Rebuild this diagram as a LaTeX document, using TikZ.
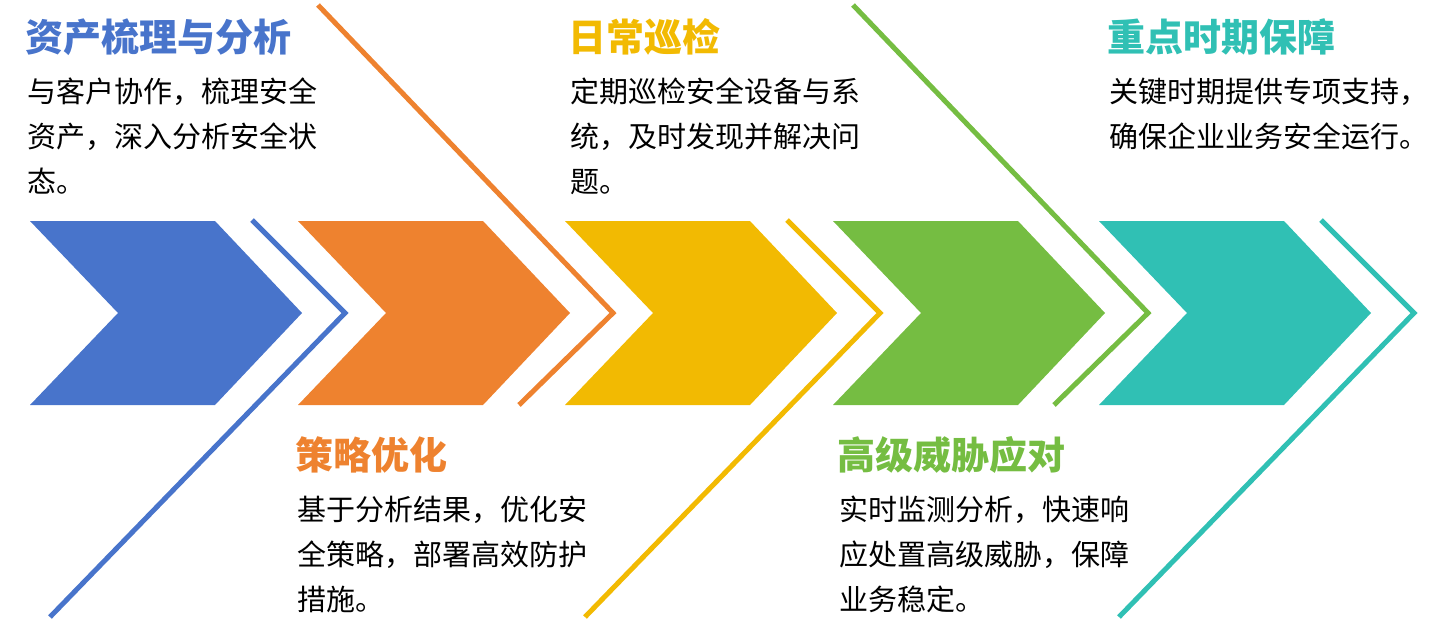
\documentclass[tikz,border=0pt]{standalone}
\usepackage{fontspec}
\setmainfont{Noto Sans CJK SC}
\usepackage{tikz}
\usetikzlibrary{positioning}
\usepackage{xcolor}
\definecolor{stblue}{RGB}{72,116,203}
\definecolor{storange}{RGB}{238,130,47}
\definecolor{styellow}{RGB}{242,186,2}
\definecolor{stgreen}{RGB}{117,189,66}
\definecolor{stteal}{RGB}{48,192,180}
\tikzstyle{stepline} = [line width=5pt]
\tikzstyle{steptitle} = [inner sep=0pt, anchor=west, font=\fontsize{38}{40}\selectfont\bfseries]
\tikzstyle{stepdesc} = [inner sep=0pt, align=left, font=\fontsize{29}{45}\selectfont]

\begin{document}
\begin{tikzpicture}[x=1pt, y=-1pt]
\useasboundingbox (0,0) rectangle (1448,640);
% chevrons
\fill[stblue, shift={(30,0)}] (0,221) -- (185,221) -- (272,313) -- (185,405) -- (0,405) -- (88,313) -- cycle;
\fill[storange, shift={(298,0)}] (0,221) -- (185,221) -- (272,313) -- (185,405) -- (0,405) -- (88,313) -- cycle;
\fill[styellow, shift={(565,0)}] (0,221) -- (185,221) -- (272,313) -- (185,405) -- (0,405) -- (88,313) -- cycle;
\fill[stgreen, shift={(833,0)}] (0,221) -- (185,221) -- (272,313) -- (185,405) -- (0,405) -- (88,313) -- cycle;
\fill[stteal, shift={(1099,0)}] (0,221) -- (185,221) -- (272,313) -- (185,405) -- (0,405) -- (88,313) -- cycle;
% outline strokes
\draw[stepline, stblue] (252,220) -- (345,313) -- (50,617);
\draw[stepline, storange] (318,5) -- (613,313) -- (519,405);
\draw[stepline, styellow] (787,220) -- (880,313) -- (585,617);
\draw[stepline, stgreen] (853,5) -- (1148,313) -- (1054,405);
\draw[stepline, stteal] (1321,220) -- (1414,313) -- (1119,617);
% texts
\node[steptitle, text=stblue] (asset) at (25,37) {资产梳理与分析};
\node[stepdesc, below right=22pt and 2pt of asset.south west] (assetdesc) {与客户协作，梳理安全\\资产，深入分析安全状\\态。};
\node[steptitle, text=storange] (policy) at (295,455) {策略优化};
\node[stepdesc, below right=22pt and 2pt of policy.south west] (policydesc) {基于分析结果，优化安\\全策略，部署高效防护\\措施。};
\node[steptitle, text=styellow] (patrol) at (568,37) {日常巡检};
\node[stepdesc, below right=22pt and 2pt of patrol.south west] (patroldesc) {定期巡检安全设备与系\\统，及时发现并解决问\\题。};
\node[steptitle, text=stgreen] (threat) at (837,455) {高级威胁应对};
\node[stepdesc, below right=22pt and 2pt of threat.south west] (threatdesc) {实时监测分析，快速响\\应处置高级威胁，保障\\业务稳定。};
\node[steptitle, text=stteal] (keyperiod) at (1107,37) {重点时期保障};
\node[stepdesc, below right=22pt and 2pt of keyperiod.south west] (keyperioddesc) {关键时期提供专项支持，\\确保企业业务安全运行。};
\end{tikzpicture}
\end{document}
